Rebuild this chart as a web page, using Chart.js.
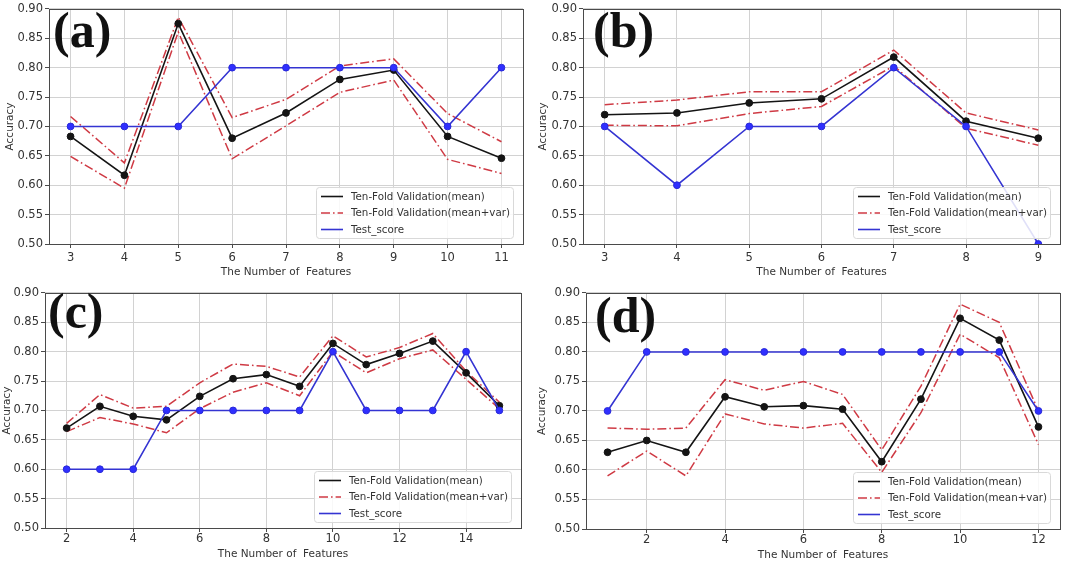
<!DOCTYPE html>
<html>
<head>
<meta charset="utf-8">
<script src="https://cdn.jsdelivr.net/npm/chart.js@4.4.1/dist/chart.umd.min.js"></script>
<style>
  html, body { margin: 0; padding: 0; background: #ffffff; }
  #page { position: relative; width: 1080px; height: 563px; overflow: hidden; }
  canvas { position: absolute; }
</style>
</head>
<body>
<div id="page">
  <canvas id="chartA" width="535" height="282" style="left:0px;top:0px"></canvas>
  <canvas id="chartB" width="534" height="282" style="left:536px;top:0px"></canvas>
  <canvas id="chartC" width="535" height="279" style="left:0px;top:284px"></canvas>
  <canvas id="chartD" width="534" height="279" style="left:536px;top:284px"></canvas>
</div>
<script>
// ===== DATA =====
const yTicks = [0.5, 0.55, 0.6, 0.65, 0.7, 0.75, 0.8, 0.85, 0.9];

// (a)
const featuresA = [3, 4, 5, 6, 7, 8, 9, 10, 11];
const meanA = [0.683, 0.617, 0.875, 0.680, 0.723, 0.780, 0.796, 0.683, 0.646];
const upperA = [0.717, 0.638, 0.886, 0.715, 0.746, 0.803, 0.815, 0.722, 0.674];
const lowerA = [0.649, 0.595, 0.861, 0.645, 0.701, 0.758, 0.779, 0.644, 0.620];
const testA = [0.7, 0.7, 0.7, 0.8, 0.8, 0.8, 0.8, 0.7, 0.8];
const xTicksA = [3, 4, 5, 6, 7, 8, 9, 10, 11];

// (b)
const featuresB = [3, 4, 5, 6, 7, 8, 9];
const meanB = [0.720, 0.723, 0.740, 0.747, 0.818, 0.709, 0.680];
const upperB = [0.737, 0.745, 0.759, 0.759, 0.830, 0.723, 0.694];
const lowerB = [0.702, 0.701, 0.722, 0.734, 0.803, 0.697, 0.668];
const testB = [0.7, 0.6, 0.7, 0.7, 0.8, 0.7, 0.5];
const xTicksB = [3, 4, 5, 6, 7, 8, 9];

// (c)
const featuresC = [2, 3, 4, 5, 6, 7, 8, 9, 10, 11, 12, 13, 14, 15];
const meanC = [0.670, 0.707, 0.690, 0.684, 0.724, 0.754, 0.761, 0.741, 0.814, 0.778, 0.797, 0.818, 0.764, 0.708];
const upperC = [0.678, 0.727, 0.704, 0.707, 0.747, 0.779, 0.775, 0.757, 0.827, 0.791, 0.807, 0.831, 0.767, 0.714];
const lowerC = [0.664, 0.688, 0.677, 0.662, 0.703, 0.731, 0.747, 0.725, 0.800, 0.764, 0.788, 0.803, 0.753, 0.703];
const testC = [0.6, 0.6, 0.6, 0.7, 0.7, 0.7, 0.7, 0.7, 0.8, 0.7, 0.7, 0.7, 0.8, 0.7];
const xTicksC = [2, 4, 6, 8, 10, 12, 14];

// (d)
const featuresD = [1, 2, 3, 4, 5, 6, 7, 8, 9, 10, 11, 12];
const meanD = [0.630, 0.650, 0.630, 0.724, 0.707, 0.709, 0.703, 0.614, 0.720, 0.857, 0.820, 0.673];
const upperD = [0.671, 0.669, 0.671, 0.753, 0.735, 0.750, 0.728, 0.634, 0.742, 0.881, 0.850, 0.700];
const lowerD = [0.590, 0.632, 0.590, 0.695, 0.678, 0.671, 0.679, 0.596, 0.697, 0.830, 0.790, 0.643];
const testD = [0.7, 0.8, 0.8, 0.8, 0.8, 0.8, 0.8, 0.8, 0.8, 0.8, 0.8, 0.7];
const xTicksD = [2, 4, 6, 8, 10, 12];

const seriesLabels = ["Ten-Fold Validation(mean)", "Ten-Fold Validation(mean+var)", "Test_score"];

// ===== STYLE =====
const BLACK = "#141414";
const RED = "#cf3a44";
const BLUE_LINE = "#3434d2";
const BLUE_DOT = "#2f2fff";
const GRID = "#d2d2d2";
const AXIS = "#4a4a4a";
const TEXT = "#333333";
const DASH_DOT = [9, 3, 1.6, 3];

function pts(xs, ys) {
  return xs.map((x, i) => ({ x: x, y: ys[i] }));
}

// frame around the plot area + panel letter + legend box
const decorPlugin = {
  id: "decor",
  afterDatasetsDraw(chart) {
    const { ctx, chartArea } = chart;
    ctx.save();
    ctx.strokeStyle = AXIS;
    ctx.lineWidth = 1;
    ctx.strokeRect(
      Math.round(chartArea.left) + 0.5,
      Math.round(chartArea.top) + 0.5,
      Math.round(chartArea.right - chartArea.left),
      Math.round(chartArea.bottom - chartArea.top)
    );
    ctx.restore();
  },
  afterDraw(chart, args, opts) {
    const { ctx, chartArea } = chart;
    ctx.save();

    // panel letter
    ctx.fillStyle = "#111111";
    ctx.font = "bold 50px 'Liberation Serif', 'Times New Roman', serif";
    ctx.textBaseline = "alphabetic";
    ctx.textAlign = "left";
    ctx.fillText(opts.letter, chartArea.left + opts.letterDx, chartArea.top + opts.letterDy);

    // legend
    const w = 197, h = 51;
    const x0 = chartArea.right - 10 - w;
    const y0 = chartArea.bottom - 6 - h;
    ctx.fillStyle = "rgba(255,255,255,0.85)";
    ctx.strokeStyle = "#d9d9d9";
    ctx.lineWidth = 1;
    ctx.beginPath();
    ctx.roundRect(x0 + 0.5, y0 + 0.5, w, h, 3);
    ctx.fill();
    ctx.stroke();

    const rows = [
      { color: BLACK, dash: [] },
      { color: RED, dash: DASH_DOT },
      { color: BLUE_LINE, dash: [] }
    ];
    ctx.font = "10.3px 'DejaVu Sans', sans-serif";
    ctx.textBaseline = "middle";
    rows.forEach((r, i) => {
      const y = y0 + 9.5 + i * 16.5;
      ctx.strokeStyle = r.color;
      ctx.lineWidth = 1.6;
      ctx.setLineDash(r.dash);
      ctx.beginPath();
      ctx.moveTo(x0 + 5, y);
      ctx.lineTo(x0 + 27, y);
      ctx.stroke();
      ctx.setLineDash([]);
      ctx.fillStyle = TEXT;
      ctx.fillText(seriesLabels[i], x0 + 35, y + 0.5);
    });
    ctx.restore();
  }
};

function makePanel(canvasId, xs, mean, upper, lower, test, xTicks, xMin, xMax, lay) {
  const ctx = document.getElementById(canvasId).getContext("2d");
  return new Chart(ctx, {
    type: "line",
    data: {
      datasets: [
        {
          label: seriesLabels[2],
          data: pts(xs, test),
          borderColor: BLUE_LINE,
          borderWidth: 1.6,
          pointRadius: 3.4,
          pointBackgroundColor: BLUE_DOT,
          pointBorderColor: "#2a2ad8",
          pointBorderWidth: 1,
          tension: 0,
          order: 0
        },
        {
          label: seriesLabels[0],
          data: pts(xs, mean),
          borderColor: BLACK,
          borderWidth: 1.6,
          pointRadius: 3.4,
          pointBackgroundColor: BLACK,
          pointBorderColor: BLACK,
          pointBorderWidth: 1,
          tension: 0,
          order: 1
        },
        {
          label: seriesLabels[1],
          data: pts(xs, upper),
          borderColor: RED,
          borderWidth: 1.5,
          borderDash: DASH_DOT,
          pointRadius: 0,
          tension: 0,
          order: 2
        },
        {
          label: seriesLabels[1] + " lower",
          data: pts(xs, lower),
          borderColor: RED,
          borderWidth: 1.5,
          borderDash: DASH_DOT,
          pointRadius: 0,
          tension: 0,
          order: 2
        }
      ]
    },
    options: {
      responsive: false,
      animation: false,
      events: [],
      layout: { padding: { top: 5, right: lay.padRight, left: 0, bottom: 0 } },
      plugins: {
        legend: { display: false },
        tooltip: { enabled: false },
        decor: { letter: lay.letter, letterDx: lay.letterDx, letterDy: lay.letterDy }
      },
      scales: {
        x: {
          type: "linear",
          min: xMin,
          max: xMax,
          afterBuildTicks: (s) => { s.ticks = xTicks.map((v) => ({ value: v })); },
          afterFit: (s) => { s.height = lay.xHeight; },
          border: { display: false },
          grid: { color: GRID, lineWidth: 1, tickColor: AXIS, tickLength: 4 },
          ticks: {
            color: TEXT,
            font: { family: "'DejaVu Sans', sans-serif", size: 11.5 },
            padding: lay.xTickPad,
            maxRotation: 0,
            autoSkip: false,
            callback: (v) => String(v)
          },
          title: {
            display: true,
            text: "The Number of  Features",
            color: TEXT,
            font: { family: "'DejaVu Sans', sans-serif", size: 10.5 },
            padding: { top: 0, bottom: lay.xTitlePad }
          }
        },
        y: {
          type: "linear",
          min: 0.5,
          max: 0.9,
          afterBuildTicks: (s) => { s.ticks = yTicks.map((v) => ({ value: v })); },
          afterFit: (s) => { s.width = lay.yWidth; },
          border: { display: false },
          grid: { color: GRID, lineWidth: 1, tickColor: AXIS, tickLength: 4 },
          ticks: {
            color: TEXT,
            font: { family: "'DejaVu Sans', sans-serif", size: 11.5 },
            padding: 2,
            callback: (v) => v.toFixed(2)
          },
          title: {
            display: true,
            text: "Accuracy",
            color: TEXT,
            font: { family: "'DejaVu Sans', sans-serif", size: 10.5 },
            padding: { top: lay.yTitlePad, bottom: 0 }
          }
        }
      }
    },
    plugins: [decorPlugin]
  });
}

// ===== BUILD =====
makePanel("chartA", featuresA, meanA, upperA, lowerA, testA, xTicksA, 2.6, 11.4,
  { letter: "(a)", letterDx: 4, letterDy: 38, padRight: 12, xHeight: 38, yWidth: 49, xTickPad: 3, xTitlePad: 3, yTitlePad: 4 });
makePanel("chartB", featuresB, meanB, upperB, lowerB, testB, xTicksB, 2.7, 9.3,
  { letter: "(b)", letterDx: 10, letterDy: 38, padRight: 10, xHeight: 38, yWidth: 47, xTickPad: 3, xTitlePad: 3, yTitlePad: 1 });
makePanel("chartC", featuresC, meanC, upperC, lowerC, testC, xTicksC, 1.35, 15.65,
  { letter: "(c)", letterDx: 3, letterDy: 35, padRight: 14, xHeight: 35, yWidth: 45, xTickPad: 0, xTitlePad: 2, yTitlePad: 1 });
makePanel("chartD", featuresD, meanD, upperD, lowerD, testD, xTicksD, 0.45, 12.55,
  { letter: "(d)", letterDx: 9, letterDy: 39, padRight: 10, xHeight: 34, yWidth: 50, xTickPad: 0, xTitlePad: 1, yTitlePad: 0 });
</script>
</body>
</html>
